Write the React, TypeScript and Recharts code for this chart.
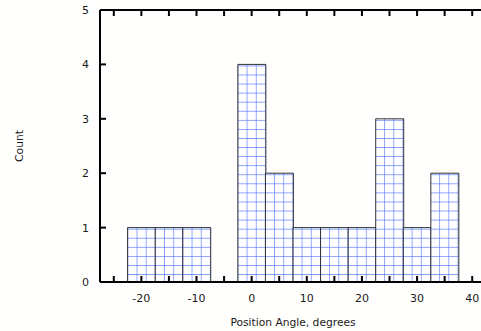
import React from "react";
import { BarChart, Bar, XAxis, YAxis } from "recharts";

// histogram bins (centre of each 5-degree bin) and counts
const binCenters = [-20, -15, -10, -5, 0, 5, 10, 15, 20, 25, 30, 35];
const counts = [1, 1, 1, 0, 4, 2, 1, 1, 1, 3, 1, 2];
const xTicks = [-25, -20, -15, -10, -5, 0, 5, 10, 15, 20, 25, 30, 35, 40];
const yTicks = [0, 1, 2, 3, 4, 5];

const data = binCenters.map((c, i) => ({ angle: c, count: counts[i] }));

const FONT = "DejaVu Sans, Verdana, sans-serif";
const INK = "#1a1a1a";

function BottomTick({ x, y, payload }: any) {
  return (
    <g>
      <path d={`M${x},${y} V${y - 6}`} stroke="#000" strokeWidth={2} fill="none" />
      {payload.value % 10 === 0 && (
        <text x={x} y={y + 20} textAnchor="middle" fontSize={11} fontFamily={FONT} fill={INK}>
          {payload.value}
        </text>
      )}
    </g>
  );
}

function TopTick({ x, y }: any) {
  return <path d={`M${x},${y} V${y + 6}`} stroke="#000" strokeWidth={2} fill="none" />;
}

function LeftTick({ x, y, payload }: any) {
  return (
    <g>
      <path d={`M${x},${y} H${x + 6}`} stroke="#000" strokeWidth={2} fill="none" />
      <text x={x - 11} y={y + 4} textAnchor="end" fontSize={11} fontFamily={FONT} fill={INK}>
        {payload.value}
      </text>
    </g>
  );
}

function RightTick({ x, y }: any) {
  return <path d={`M${x},${y} H${x - 6}`} stroke="#000" strokeWidth={2} fill="none" />;
}

export default function App() {
  return (
    <div
      style={{
        position: "absolute",
        left: 0,
        top: 0,
        width: 481,
        height: 331,
        overflow: "hidden",
        background: "#fffffd",
      }}
    >
      <BarChart
        width={487}
        height={331}
        data={data}
        margin={{ top: 9, right: 0, bottom: 0, left: 0 }}
        barCategoryGap={0}
      >
        <defs>
          <pattern
            id="gridFill"
            patternUnits="userSpaceOnUse"
            x={128.3}
            y={265.9}
            width={9.17}
            height={9.07}
          >
            <rect width={9.17} height={9.07} fill="#ffffff" />
            <path d="M 9.17 0 V 9.07 M 0 9.07 H 9.17" stroke="#5a7cff" strokeWidth={1.3} />
          </pattern>
        </defs>
        <XAxis
          dataKey="angle"
          type="number"
          domain={[-27.5, 42.5]}
          ticks={xTicks}
          interval={0}
          height={49}
          tickSize={0}
          tickMargin={0}
          tickLine={false}
          axisLine={{ stroke: "#000", strokeWidth: 2 }}
          tick={<BottomTick />}
          label={{
            content: ({ viewBox }: any) => (
              <text
                x={viewBox.x + viewBox.width / 2}
                y={326}
                textAnchor="middle"
                fontSize={10.7}
                fontFamily={FONT}
                fill={INK}
              >
                Position Angle, degrees
              </text>
            ),
          }}
        />
        <XAxis
          xAxisId="top"
          dataKey="angle"
          type="number"
          orientation="top"
          domain={[-27.5, 42.5]}
          ticks={xTicks}
          interval={0}
          height={1}
          tickSize={0}
          tickMargin={0}
          tickLine={false}
          axisLine={{ stroke: "#000", strokeWidth: 2 }}
          tick={<TopTick />}
        />
        <YAxis
          domain={[0, 5]}
          ticks={yTicks}
          interval={0}
          width={100}
          tickSize={0}
          tickMargin={0}
          tickLine={false}
          axisLine={{ stroke: "#000", strokeWidth: 2 }}
          tick={<LeftTick />}
          label={{
            content: ({ viewBox }: any) => {
              const cy = viewBox.y + viewBox.height / 2;
              return (
                <text
                  x={23}
                  y={cy}
                  transform={`rotate(-90, 23, ${cy})`}
                  textAnchor="middle"
                  fontSize={10.7}
                  fontFamily={FONT}
                  fill={INK}
                >
                  Count
                </text>
              );
            },
          }}
        />
        <YAxis
          yAxisId="right"
          orientation="right"
          domain={[0, 5]}
          ticks={yTicks}
          interval={0}
          width={1}
          tickSize={0}
          tickMargin={0}
          tickLine={false}
          axisLine={{ stroke: "#000", strokeWidth: 2 }}
          tick={<RightTick />}
        />
        <Bar
          dataKey="count"
          fill="url(#gridFill)"
          stroke="#333"
          strokeWidth={1}
          isAnimationActive={false}
        />
      </BarChart>
    </div>
  );
}
